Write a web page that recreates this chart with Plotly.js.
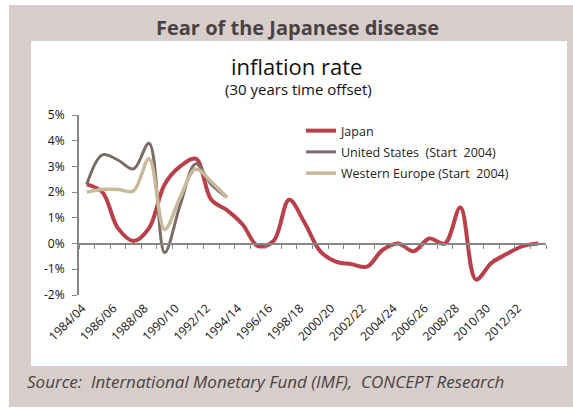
<!DOCTYPE html>
<html>
<head>
<meta charset="utf-8">
<script src="https://cdn.plot.ly/plotly-3.0.1.min.js"></script>
<style>
html,body{margin:0;padding:0;background:#ffffff;}
#chart{width:573px;height:408px;}
</style>
</head>
<body>
<div id="chart"></div>
<script>
// ---- data ----
var categories = ["1984/04","1985/05","1986/06","1987/07","1988/08","1989/09","1990/10","1991/11","1992/12","1993/13",
  "1994/14","1995/15","1996/16","1997/17","1998/18","1999/19","2000/20","2001/21","2002/22","2003/23",
  "2004/24","2005/25","2006/26","2007/27","2008/28","2009/29","2010/30","2011/31","2012/32","2013/33"];
var japan = [2.3, 2.0, 0.6, 0.1, 0.6, 2.3, 3.0, 3.3, 1.7, 1.3, 0.75, -0.1, 0.1, 1.7, 0.8, -0.3, -0.7, -0.8, -0.9, -0.25,
  0.0, -0.3, 0.2, 0.0, 1.4, -1.4, -0.75, -0.4, -0.1, 0.0];
var unitedStates = [2.3, 3.45, 3.25, 2.9, 3.9, -0.35, 1.5, 3.1, 2.3, 1.8];
var westernEurope = [2.0, 2.1, 2.1, 2.05, 3.3, 0.55, 1.8, 2.9, 2.4, 1.8];
var seriesNames = ["Japan", "United States  (Start  2004)", "Western Europe (Start  2004)"];
var yTickVals = [5, 4, 3, 2, 1, 0, -1, -2];
var yTickText = ["5%", "4%", "3%", "2%", "1%", "0%", "-1%", "-2%"];
var labelStep = 2;

// ---- layout geometry (pixels) ----
var W = 573, H = 408;
var mL = 79, mR = 27, mT = 115, mB = 113;
var PW = W - mL - mR, PH = H - mT - mB;
function px(x){ return (x - mL) / PW; }
function py(y){ return (H - mB - y) / PH; }

var idx = categories.map(function(_, i){ return i; });
var labelShift = -0.3;
var tickVals = [], tickText = [];
for (var i = 0; i < categories.length; i += labelStep){ tickVals.push(i + labelShift); tickText.push(categories[i]); }
var boundaries = [];
for (var j = 0; j <= categories.length; j++){ boundaries.push(j - 0.5); }

var colJ = "#b8404a", colUS = "#7b6b66", colWE = "#c9b99b", axisCol = "#868686";

var traces = [
  {x: idx.slice(0, japan.length), y: japan, name: seriesNames[0], legendgroup: "a", type: "scatter", mode: "lines",
   line: {color: colJ, width: 4, shape: "spline", smoothing: 1}, hoverinfo: "skip"},
  {x: idx.slice(0, unitedStates.length), y: unitedStates, name: seriesNames[1], legendgroup: "b", type: "scatter", mode: "lines",
   line: {color: colUS, width: 3, shape: "spline", smoothing: 1}, hoverinfo: "skip"},
  {x: idx.slice(0, westernEurope.length), y: westernEurope, name: seriesNames[2], legendgroup: "c", type: "scatter", mode: "lines",
   line: {color: colWE, width: 3.5, shape: "spline", smoothing: 1}, hoverinfo: "skip"},
  {x: [], y: [], xaxis: "x2", yaxis: "y", showlegend: false, type: "scatter", mode: "lines", hoverinfo: "skip"}
];

var font = "'Open Sans', 'Noto Sans', sans-serif";
var textCol = "#4a4242";

var layout = {
  width: W, height: H,
  margin: {l: mL, r: mR, t: mT, b: mB, pad: 0},
  paper_bgcolor: "#ffffff",
  plot_bgcolor: "rgba(0,0,0,0)",
  font: {family: font, size: 12, color: "#111111"},
  showlegend: true,
  legend: {x: px(301), y: py(116), xanchor: "left", yanchor: "top", bgcolor: "rgba(0,0,0,0)",
           font: {family: font, size: 12.5, color: "#222222"}, tracegroupgap: 2, itemwidth: 30},
  xaxis: {range: [-0.5, categories.length - 0.5], tickvals: tickVals, ticktext: tickText, tickangle: -45,
          ticks: "", showline: false, showgrid: false, zeroline: false, ticklabelstandoff: 3,
          tickfont: {family: font, size: 12, color: "#111111"}},
  xaxis2: {overlaying: "x", anchor: "free", position: py(244), range: [-0.5, categories.length - 0.5],
           showline: true, linecolor: axisCol, linewidth: 2, ticks: "outside", ticklen: 4, tickwidth: 1,
           tickcolor: axisCol, tickvals: boundaries, showticklabels: false, showgrid: false, zeroline: false, side: "bottom"},
  yaxis: {range: [-2, 5], tickvals: yTickVals, ticktext: yTickText, showline: true, linecolor: axisCol, linewidth: 2,
          ticks: "outside", ticklen: 5, tickcolor: axisCol, showgrid: false, zeroline: false, ticklabelstandoff: 5,
          tickfont: {family: font, size: 12, color: "#111111"}},
  shapes: [
    {type: "rect", xref: "paper", yref: "paper", x0: px(9), x1: px(573), y0: py(407), y1: py(5),
     fillcolor: "#d7cecb", line: {width: 0}, layer: "below"},
    {type: "rect", xref: "paper", yref: "paper", x0: px(31), x1: px(567), y0: py(366), y1: py(41),
     fillcolor: "#ffffff", line: {width: 0}, layer: "below"}
  ],
  annotations: [
    {text: "<b>Fear of the Japanese disease</b>", xref: "paper", yref: "paper", x: px(297), y: py(27),
     xanchor: "center", yanchor: "middle", showarrow: false, font: {family: font, size: 20, color: textCol}},
    {text: "inflation rate", xref: "paper", yref: "paper", x: px(296), y: py(66),
     xanchor: "center", yanchor: "middle", showarrow: false, font: {family: font, size: 22, color: "#111111"}},
    {text: "(30 years time offset)", xref: "paper", yref: "paper", x: px(298), y: py(89),
     xanchor: "center", yanchor: "middle", showarrow: false, font: {family: font, size: 15, color: "#111111"}},
    {text: "<i>Source:  International Monetary Fund (IMF),  CONCEPT Research</i>", xref: "paper", yref: "paper",
     x: px(25), y: py(381), xanchor: "left", yanchor: "middle", showarrow: false,
     font: {family: font, size: 17, color: textCol}}
  ]
};

Plotly.newPlot("chart", traces, layout, {staticPlot: true, displayModeBar: false});
</script>
</body>
</html>
